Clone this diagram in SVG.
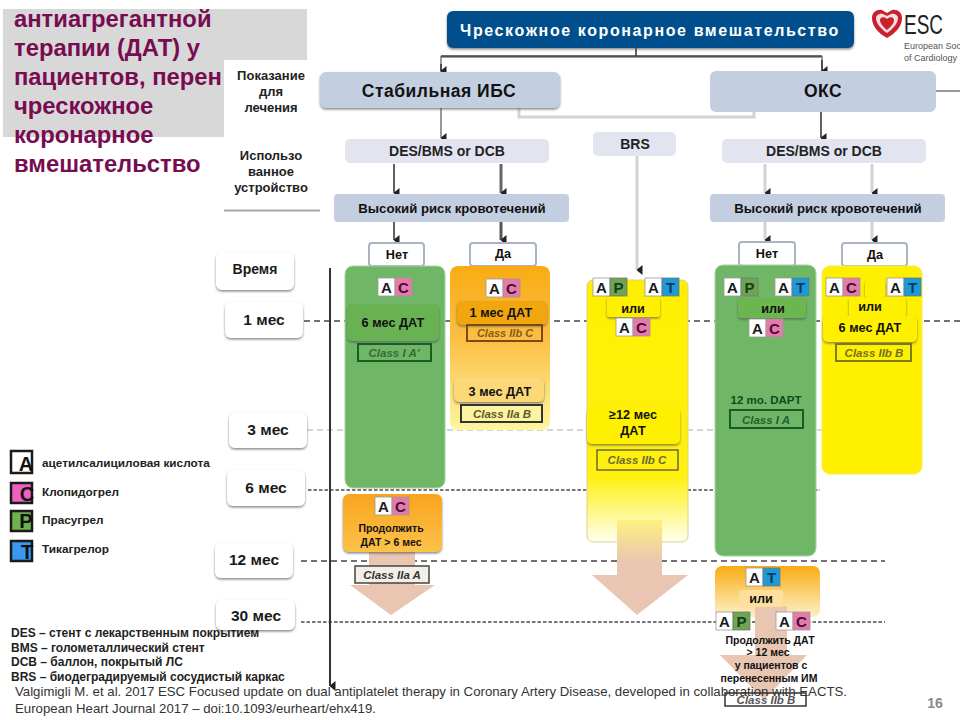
<svg xmlns="http://www.w3.org/2000/svg" width="960" height="720" viewBox="0 0 960 720">
<style>
text{font-family:"Liberation Sans",Arial,sans-serif;font-weight:bold;fill:#111;text-anchor:middle}
.ttl{font-size:23.8px;fill:#770c50;text-anchor:start}
.side{font-size:13px;fill:#222}
.big{font-size:17.5px;letter-spacing:.5px}
.mid{font-size:12.7px}
.dev{font-size:14px;fill:#222}
.risk{font-size:13.2px}
.sm{font-size:10.5px}
.time{font-size:15.5px;fill:#1a1a1a}
.leg{font-size:11.8px;text-anchor:start;fill:#222}
.abbr{font-size:12px;text-anchor:start;fill:#222}
.cit{font-size:12.8px;font-weight:normal;text-anchor:start;fill:#333}
.cls{font-size:11.5px;font-style:italic;font-weight:bold}
.gb{fill:#c3cfe0}
.pb{fill:#e2e5f0}
.tb{fill:#fff;filter:url(#sh)}
.rn{fill:#fff;stroke:#a9b3c4;stroke-width:2}
.c1{fill:none;stroke:#3a3a3a;stroke-width:1.6}
.c2{fill:none;stroke:#9a9a9a;stroke-width:2}
.c3{fill:none;stroke:#d3d3d3;stroke-width:3}
.da{fill:none;stroke:#444;stroke-width:1.6;stroke-dasharray:6 4}
.db{fill:none;stroke:#c8c8c8;stroke-width:1.5;stroke-dasharray:6 4}
.dc{fill:none;stroke:#777;stroke-width:2;stroke-dasharray:3.5 2}
.aw{fill:#e8c6b2}
.ba{fill:#fff;stroke:#999;stroke-width:.8}.bc{fill:#e57ba8;stroke:#999;stroke-width:.8}.bp{fill:#6fa552;stroke:#777;stroke-width:.8}.bt{fill:#1f9ad6;stroke:#777;stroke-width:.8}
.bl{font-size:15px;fill:#1a1a1a}
.blc{font-size:15px;fill:#4a0a3a}
.blp{font-size:15px;fill:#12401a}
.blt{font-size:15px;fill:#0b3d66}
.lg{stroke:#1a1a1a;stroke-width:2.5}
.lt{font-size:20px;fill:#111}
</style>
<defs>
<filter id="sh" x="-15%" y="-15%" width="130%" height="140%"><feDropShadow dx="0" dy="1.5" stdDeviation="1" flood-color="#555" flood-opacity=".7"/></filter>
<linearGradient id="gO" x1="0" y1="0" x2="0" y2="1"><stop offset="0" stop-color="#f9ab14"/><stop offset=".45" stop-color="#fbbf45"/><stop offset="1" stop-color="#fdf6a0"/></linearGradient>
<linearGradient id="gY" x1="0" y1="0" x2="0" y2="1"><stop offset="0" stop-color="#fff000"/><stop offset=".75" stop-color="#fff010"/><stop offset="1" stop-color="#fffff0"/></linearGradient>
<linearGradient id="gC" x1="0" y1="0" x2="0" y2="1"><stop offset="0" stop-color="#f9a51e"/><stop offset="1" stop-color="#fcc24a"/></linearGradient>
<linearGradient id="gL" x1="0" y1="0" x2="0" y2="1"><stop offset="0" stop-color="#f9ab14"/><stop offset=".5" stop-color="#fbd070"/><stop offset="1" stop-color="#fbf0c8"/></linearGradient>
<linearGradient id="gA" x1="0" y1="0" x2="0" y2="1"><stop offset="0" stop-color="#fdf080"/><stop offset=".45" stop-color="#e8c6b2"/></linearGradient>
<marker id="ah" markerWidth="10" markerHeight="6" refX="5" refY="5.5" orient="auto" markerUnits="userSpaceOnUse"><path d="M0 0H10L5 6Z" fill="#222"/></marker>
<g id="bA"><rect class="ba" width="17" height="18"/><text class="bl" x="8.5" y="14.5">A</text></g>
<g id="bC"><rect class="bc" width="17" height="18"/><text class="blc" x="8.5" y="14.5">C</text></g>
<g id="bP"><rect class="bp" width="17" height="18"/><text class="blp" x="8.5" y="14.5">P</text></g>
<g id="bT"><rect class="bt" width="17" height="18"/><text class="blt" x="8.5" y="14.5">T</text></g>
</defs>

<rect width="960" height="720" fill="#fff"/>

<g id="title">
<path d="M3 9H307V60H224V137H3Z" fill="#d8d8d8"/>
<rect x="224" y="60" width="96" height="150" fill="#fff"/>
<path d="M224 210.500H320" stroke="#aaa" stroke-width="2"/>
<text class="ttl" x="14" y="27">антиагрегантной</text>
<text class="ttl" x="14" y="56">терапии (ДАТ) у</text>
<text class="ttl" x="14" y="85">пациентов, перен</text>
<text class="ttl" x="14" y="114">чрескожное</text>
<text class="ttl" x="14" y="143">коронарное</text>
<text class="ttl" x="14" y="172">вмешательство</text>
</g>
<g id="row-labels">
<text class="side" x="271" y="80">Показание</text>
<text class="side" x="271" y="96">для</text>
<text class="side" x="271" y="112">лечения</text>
<text class="side" x="271" y="160">Использо</text>
<text class="side" x="271" y="176">ванное</text>
<text class="side" x="271" y="192">устройство</text>
</g>

<g id="logo">
<path d="M887 38C878 33 872 26 872 18C872 12 877 9 882 10L887 13L892 10C897 9 902 12 902 18C902 26 896 33 887 38Z" fill="#c8202f"/>
<path d="M887 33C881 29 876 23 876 18C876 15 880 13 883 14L887 16L891 14C894 13 898 15 898 18C898 23 893 29 887 33Z" fill="#f5dde0"/>
<path d="M887 30C883 27 880 23 880 20C880 17 884 16 887 19C890 16 894 17 894 20C894 23 891 27 887 30Z" fill="#c8202f"/>
<text x="904" y="34" textLength="39" lengthAdjust="spacingAndGlyphs" style="font-size:27px;font-weight:normal;text-anchor:start;fill:#222">ESC</text>
<text x="904" y="49" style="font-size:9px;font-weight:normal;text-anchor:start;fill:#555">European Soc</text>
<text x="904" y="61" style="font-size:9px;font-weight:normal;text-anchor:start;fill:#555">of Cardiology</text>
</g>

<g id="connectors">
<path class="da" d="M304 321H960"/>
<path class="db" d="M307 430H880"/>
<path class="dc" d="M308 490H820"/>
<path class="da" d="M301 561H885"/>
<path class="dc" d="M301 622H885"/>
<path class="c1" d="M636 48V56"/>
<path class="c2" d="M441 72V57H822V72"/>
<path class="c1" d="M441 56H822"/>
<path d="M441 64V71" class="c1" marker-end="url(#ah)"/>
<path d="M822 60V71" class="c1" marker-end="url(#ah)"/>
<path class="c3" d="M519 108V117H754V110"/>
<path class="c2" d="M936 91H960"/>
<path class="c2" d="M441 108V138" marker-end="url(#ah)"/>
<path class="c1" d="M821 112V138" marker-end="url(#ah)"/>
<path class="c1" d="M394 164V193" marker-end="url(#ah)"/>
<path class="c2" style="stroke:#666;stroke-width:3" d="M501 164V193" marker-end="url(#ah)"/>
<path class="c3" d="M765 164V193" marker-end="url(#ah)"/>
<path class="c3" d="M872 164V193" marker-end="url(#ah)"/>
<path class="c1" d="M394 222V240" marker-end="url(#ah)"/>
<path class="c2" style="stroke:#555;stroke-width:3" d="M501 222V240" marker-end="url(#ah)"/>
<path class="c3" d="M765 222V240" marker-end="url(#ah)"/>
<path class="c3" d="M872 222V240" marker-end="url(#ah)"/>
<path class="c3" d="M637 156V270" marker-end="url(#ah)"/>
<path d="M330 268V686" stroke="#333" stroke-width="2" fill="none" marker-end="url(#ah)"/>
</g>

<g id="node-pci">
<rect x="447" y="11" width="407" height="37" rx="6" fill="#054f8c" filter="url(#sh)"/>
<text x="650" y="36" style="font-size:16px;fill:#fff;font-weight:bold;letter-spacing:1.6px">Чрескожное коронарное вмешательство</text>
</g>
<g id="node-sibs">
<rect x="320" y="72" width="240" height="36" rx="6" class="gb" filter="url(#sh)"/>
<text class="big" x="439" y="97">Стабильная ИБС</text>
</g>
<g id="node-oks">
<rect x="710" y="71" width="226" height="41" rx="6" class="gb"/>
<text class="big" x="823" y="97">ОКС</text>
</g>
<g id="node-des1">
<rect x="345" y="139" width="204" height="24" rx="5" class="pb"/>
<text class="dev" x="447" y="156">DES/BMS or DCB</text>
</g>
<g id="node-brs">
<rect x="593" y="132" width="83" height="24" rx="5" class="pb"/>
<text class="dev" x="635" y="149">BRS</text>
</g>
<g id="node-des2">
<rect x="722" y="139" width="204" height="24" rx="5" class="pb"/>
<text class="dev" x="824" y="156">DES/BMS or DCB</text>
</g>
<g id="node-risk1">
<rect x="334" y="194" width="235" height="28" rx="4" class="gb"/>
<text class="risk" x="452" y="213">Высокий риск кровотечений</text>
</g>
<g id="node-risk2">
<rect x="710" y="194" width="235" height="28" rx="4" class="gb"/>
<text class="risk" x="828" y="213">Высокий риск кровотечений</text>
</g>
<g id="node-no1"><rect x="369" y="243" width="55" height="23" rx="3" class="rn"/><text class="mid" x="397" y="259">Нет</text></g>
<g id="node-yes1"><rect x="470" y="243" width="66" height="23" rx="3" class="rn"/><text class="mid" x="503" y="258">Да</text></g>
<g id="node-no2"><rect x="739" y="242" width="56" height="24" rx="3" class="rn"/><text class="mid" x="767" y="258">Нет</text></g>
<g id="node-yes2"><rect x="842" y="243" width="65" height="23" rx="3" class="rn"/><text class="mid" x="875" y="259">Да</text></g>

<g id="time-labels">
<g id="t0"><rect x="216" y="252" width="78" height="38" rx="6" class="tb"/><text class="time" x="255" y="274" style="font-size:14px">Время</text></g>
<g id="t1"><rect x="225" y="302" width="78" height="36" rx="6" class="tb"/><text class="time" x="264" y="325">1 мес</text></g>
<g id="t3"><rect x="229" y="412" width="78" height="36" rx="6" class="tb"/><text class="time" x="268" y="435">3 мес</text></g>
<g id="t6"><rect x="227" y="470" width="78" height="36" rx="6" class="tb"/><text class="time" x="266" y="493">6 мес</text></g>
<g id="t12"><rect x="215" y="543" width="78" height="35" rx="6" class="tb"/><text class="time" x="254" y="565">12 мес</text></g>
<g id="t30"><rect x="216" y="600" width="79" height="30" rx="6" class="tb"/><text class="time" x="256" y="621">30 мес</text></g>
</g>

<g id="col-green1">
<rect x="345" y="266" width="100" height="222" rx="8" fill="#6fb766" stroke="#a8d4a0"/>
<use href="#bA" x="378" y="278"/><use href="#bC" x="395" y="278"/>
<rect x="347" y="304" width="92" height="37" rx="5" fill="#68b252" filter="url(#sh)"/>
<text class="mid" x="393" y="327">6 мес ДАТ</text>
<rect x="358" y="344" width="73" height="17" fill="none" stroke="#175d24" stroke-width="2"/>
<text class="cls" x="394" y="357" style="fill:#356b35">Class I A'</text>
</g>
<g id="col-orange1">
<rect x="450" y="266" width="100" height="164" rx="8" fill="url(#gO)"/>
<use href="#bA" x="486" y="279"/><use href="#bC" x="503" y="279"/>
<rect x="457" y="301" width="90" height="24" rx="5" fill="#f2a60c" filter="url(#sh)"/>
<text class="mid" x="501" y="317">1 мес ДАТ</text>
<rect x="467" y="325" width="75" height="16" fill="none" stroke="#7a4a10" stroke-width="2"/>
<text class="cls" x="505" y="337" style="fill:#8a5a18;font-size:11px">Class IIb C</text>
<rect x="454" y="378" width="90" height="24" rx="5" fill="#fcd878" filter="url(#sh)"/>
<text class="mid" x="500" y="396">3 мес ДАТ</text>
<rect x="461" y="405" width="81" height="17" fill="#fdf3a0" stroke="#333" stroke-width="2"/>
<text class="cls" x="502" y="418" style="fill:#5a5a28">Class IIa B</text>
</g>
<g id="col-yellow-brs">
<rect x="587" y="280" width="101" height="262" rx="6" fill="url(#gY)" stroke="#d8d090"/>
<path d="M617 520H662V575H688L637 615L592 575H617Z" fill="url(#gA)"/>
<use href="#bA" x="593" y="278"/><use href="#bP" x="610" y="278"/>
<use href="#bA" x="645" y="278"/><use href="#bT" x="662" y="278"/>
<rect x="607" y="297" width="53" height="20" rx="3" fill="#fff000" filter="url(#sh)"/>
<text class="mid" x="633" y="313">или</text>
<use href="#bA" x="616" y="318"/><use href="#bC" x="633" y="318"/>
<rect x="587" y="408" width="93" height="36" rx="5" fill="#fff000" filter="url(#sh)"/>
<text class="mid" x="633" y="419">≥12 мес</text>
<text class="mid" x="633" y="435">ДАТ</text>
<rect x="597" y="450" width="81" height="20" fill="none" stroke="#6a6a30" stroke-width="1.500"/>
<text class="cls" x="637" y="464" style="fill:#6a6a30">Class IIb C</text>
</g>
<g id="col-green2">
<rect x="715" y="265" width="101" height="291" rx="8" fill="#6fb766" stroke="#a8d4a0"/>
<use href="#bA" x="724" y="278"/><use href="#bP" x="741" y="278"/>
<use href="#bA" x="775" y="278"/><use href="#bT" x="792" y="278"/>
<rect x="738" y="298" width="68" height="20" rx="3" fill="#6cb650" filter="url(#sh)"/>
<text class="mid" x="773" y="313">или</text>
<use href="#bA" x="749" y="319"/><use href="#bC" x="766" y="319"/>
<text class="sm" x="766" y="404" style="font-size:11.500px;fill:#0f4a1d">12 mo. DAPT</text>
<rect x="730" y="410" width="73" height="18" fill="none" stroke="#175d24" stroke-width="2"/>
<text class="cls" x="766" y="424" style="fill:#235f2e">Class I A</text>
</g>
<g id="col-yellow2">
<rect x="822" y="266" width="100" height="208" rx="8" fill="#fff000" stroke="#f5ee50"/>
<use href="#bA" x="826" y="278"/><use href="#bC" x="843" y="278"/>
<use href="#bA" x="887" y="278"/><use href="#bT" x="904" y="278"/>
<rect x="865" y="280" width="20" height="20" rx="3" fill="#fff000" filter="url(#sh)"/>
<rect x="849" y="297" width="57" height="20" rx="3" fill="#fff000" filter="url(#sh)"/>
<text class="mid" x="870" y="311">или</text>
<rect x="823" y="316" width="94" height="26" rx="5" fill="#fff000" filter="url(#sh)"/>
<text class="mid" x="870" y="332">6 мес ДАТ</text>
<rect x="836" y="344" width="75" height="17" fill="none" stroke="#7a7a20" stroke-width="2"/>
<text class="cls" x="874" y="357" style="fill:#6f6f28">Class IIb B</text>
</g>

<g id="cont-left">
<path d="M369 552H415V585H435L391 615L350 585H369Z" class="aw"/>
<rect x="343" y="494" width="99" height="58" rx="6" fill="url(#gC)" filter="url(#sh)"/>
<use href="#bA" x="375" y="497"/><use href="#bC" x="392" y="497"/>
<text class="sm" x="391" y="532">Продолжить</text>
<text class="sm" x="391" y="546">ДАТ &gt; 6 мес</text>
<rect x="355" y="566" width="74" height="17" fill="#f3eee8" stroke="#444" stroke-width="1.500"/>
<text class="cls" x="392" y="579" style="fill:#333">Class IIa A</text>
</g>
<g id="cont-right">
<rect x="715" y="566" width="105" height="51" rx="7" fill="url(#gL)"/>
<rect x="718" y="630" width="103" height="58" fill="#fff"/>
<path d="M755 606H787V655H807L764 700L720 655H755Z" class="aw"/>
<use href="#bA" x="746" y="568"/><use href="#bT" x="763" y="568"/>
<rect x="739" y="590" width="44" height="17" rx="2" fill="#fde0a0"/>
<text class="mid" x="761" y="603">или</text>
<use href="#bA" x="716" y="612"/><use href="#bP" x="733" y="612"/>
<use href="#bA" x="776" y="612"/><use href="#bC" x="793" y="612"/>
<text class="sm" x="770" y="644">Продолжить ДАТ</text>
<text class="sm" x="768" y="656">&gt; 12 мес</text>
<text class="sm" x="771" y="669">у пациентов с</text>
<text class="sm" x="769" y="682">перенесенным ИМ</text>
<rect x="725" y="693" width="81" height="13" fill="none" stroke="#333" stroke-width="1.500"/>
<text class="cls" x="766" y="704" style="fill:#555">Class IIb B</text>
</g>

<g id="legend">
<g id="lg-a"><rect x="11" y="451" width="21" height="22" fill="#fff" class="lg"/><text class="lt" x="26" y="471">A</text><text class="leg" x="42" y="467">ацетилсалициловая кислота</text></g>
<g id="lg-c"><rect x="11" y="483" width="21" height="20" fill="#f060c0" class="lg"/><text class="lt" x="27" y="501">C</text><text class="leg" x="42" y="496">Клопидогрел</text></g>
<g id="lg-p"><rect x="11" y="511" width="21" height="20" fill="#70b050" class="lg"/><text class="lt" x="26" y="528">P</text><text class="leg" x="42" y="524">Прасугрел</text></g>
<g id="lg-t"><rect x="11" y="541" width="21" height="20" fill="#3a98f0" class="lg"/><text class="lt" x="27" y="559">T</text><text class="leg" x="42" y="553">Тикагрелор</text></g>
</g>
<g id="abbr">
<text class="abbr" x="11" y="637">DES – стент с лекарственным покрытием</text>
<text class="abbr" x="11" y="652">BMS – голометаллический стент</text>
<text class="abbr" x="11" y="666">DCB – баллон, покрытый ЛС</text>
<text class="abbr" x="11" y="681">BRS – биодеградируемый сосудистый каркас</text>
</g>
<g id="citation">
<text class="cit" x="15" y="696" textLength="832" lengthAdjust="spacingAndGlyphs">Valgimigli M. et al. 2017 ESC Focused update on dual antiplatelet therapy in Coronary Artery Disease, developed in collaboration with EACTS.</text>
<text class="cit" x="15" y="713" textLength="361" lengthAdjust="spacingAndGlyphs">European Heart Journal 2017 – doi:10.1093/eurheart/ehx419.</text>
<text x="935" y="708" style="font-size:14px;fill:#8a8a8a">16</text>
</g>
</svg>
